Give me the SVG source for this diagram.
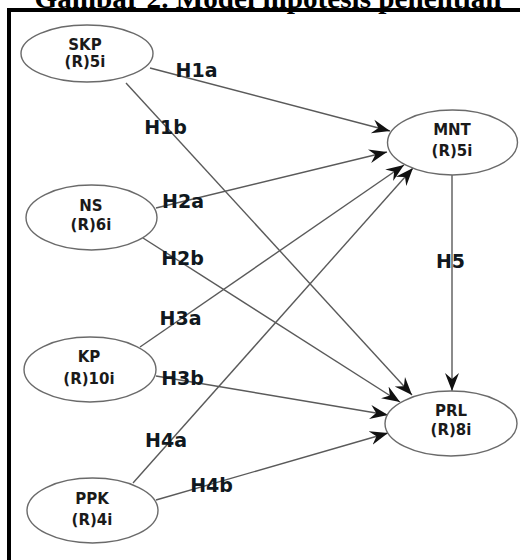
<svg xmlns="http://www.w3.org/2000/svg" width="520" height="560" viewBox="0 0 520 560">
<style>
.title{font-family:"Liberation Serif","Times New Roman",serif;font-weight:bold;font-size:27px;fill:#000}
.node ellipse{fill:#fff;stroke:#6a6a6a;stroke-width:1.4}
.node text{font-family:"DejaVu Sans",Verdana,sans-serif;font-weight:bold;font-size:15px;fill:#1a1a1a;text-anchor:middle}
.edge{stroke:#5a5a5a;stroke-width:1.4;fill:none;marker-end:url(#arr)}
.lbl{font-family:"DejaVu Sans",Verdana,sans-serif;font-weight:bold;font-size:19px;fill:#101820;text-anchor:middle}
</style>
<defs>
<marker id="arr" markerUnits="userSpaceOnUse" markerWidth="20" markerHeight="16" refX="18" refY="7.5" orient="auto">
<path d="M0,0.5 L18,7.5 L0,14.5 L6,7.5 z" fill="#111"/>
</marker>
</defs>
<rect x="0" y="0" width="520" height="560" fill="#fff"/>
<text class="title" x="268" y="8" text-anchor="middle" textLength="467" lengthAdjust="spacingAndGlyphs">Gambar 2. Model hipotesis penelitian</text>
<rect x="9" y="10" width="530" height="570" fill="none" stroke="#000" stroke-width="4"/>
<g id="connectors">
<line class="edge" x1="150" y1="68" x2="390" y2="131"/>
<line class="edge" x1="126" y1="83" x2="412" y2="395"/>
<line class="edge" x1="156" y1="208" x2="387" y2="152"/>
<line class="edge" x1="143" y1="238" x2="400" y2="402"/>
<line class="edge" x1="140" y1="347" x2="404" y2="165"/>
<line class="edge" x1="156" y1="376" x2="388" y2="415"/>
<line class="edge" x1="133" y1="483" x2="413" y2="168"/>
<line class="edge" x1="156" y1="500" x2="388" y2="433"/>
<line class="edge" x1="452" y1="175" x2="452" y2="391"/>
<g id="labels">
<text class="lbl" x="196.5" y="77">H1a</text>
<text class="lbl" x="165.5" y="134">H1b</text>
<text class="lbl" x="183" y="208">H2a</text>
<text class="lbl" x="182.5" y="265">H2b</text>
<text class="lbl" x="180.5" y="325">H3a</text>
<text class="lbl" x="182.5" y="385">H3b</text>
<text class="lbl" x="166" y="447">H4a</text>
<text class="lbl" x="211.5" y="492">H4b</text>
<text class="lbl" x="450.5" y="268">H5</text>
</g>
</g>
<g id="SKP" class="node">
<ellipse cx="87" cy="53.5" rx="66" ry="28.5"/>
<text x="85" y="50">SKP</text>
<text x="85" y="67">(R)5i</text>
</g>
<g id="NS" class="node">
<ellipse cx="91.5" cy="217.5" rx="65.5" ry="32.5"/>
<text x="91" y="211">NS</text>
<text x="91" y="230">(R)6i</text>
</g>
<g id="KP" class="node">
<ellipse cx="90" cy="369.5" rx="66" ry="32.5"/>
<text x="89" y="362">KP</text>
<text x="89" y="384">(R)10i</text>
</g>
<g id="PPK" class="node">
<ellipse cx="92.5" cy="510.5" rx="65.5" ry="32.5"/>
<text x="92" y="504">PPK</text>
<text x="92" y="525">(R)4i</text>
</g>
<g id="MNT" class="node">
<ellipse cx="452.5" cy="142.5" rx="65" ry="32.5"/>
<text x="452" y="135">MNT</text>
<text x="452" y="156">(R)5i</text>
</g>
<g id="PRL" class="node">
<ellipse cx="451" cy="423.5" rx="66" ry="32.5"/>
<text x="451" y="416">PRL</text>
<text x="451" y="435">(R)8i</text>
</g>
</svg>
